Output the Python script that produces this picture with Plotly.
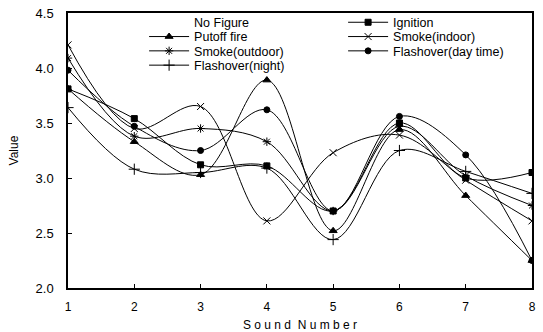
import plotly.graph_objects as go

sound_numbers = [1, 2, 3, 4, 5, 6, 7, 8]
x_tick_labels = ["1", "2", "3", "4", "5", "6", "7", "8"]

ignition = [3.81, 3.54, 3.12, 3.11, 2.70, 3.50, 3.00, 3.05]
putoff_fire = [3.81, 3.33, 3.03, 3.89, 2.52, 3.44, 2.84, 2.25]
smoke_indoor = [4.21, 3.45, 3.65, 2.61, 3.23, 3.39, 2.98, 2.61]
smoke_outdoor = [4.09, 3.38, 3.45, 3.33, 2.70, 3.47, 3.02, 2.75]
flashover_day = [3.98, 3.47, 3.25, 3.62, 2.70, 3.56, 3.21, 2.25]
flashover_night = [3.64, 3.08, 3.05, 3.09, 2.44, 3.25, 3.06, 2.86]

FONT = "Liberation Sans, Arial, sans-serif"
fig = go.Figure()

def add(name, y, symbol, size, legend):
    fig.add_trace(go.Scatter(
        x=sound_numbers, y=y, name=name, mode="lines+markers",
        line=dict(color="black", width=1, shape="spline", smoothing=1.0),
        marker=dict(symbol=symbol, size=size, color="black",
                    line=dict(color="black", width=1)),
        legend=legend,
    ))

# legend rows (two entries per row)
fig.add_trace(go.Scatter(x=[None], y=[None], name="No Figure", mode="lines",
                         line=dict(color="rgba(0,0,0,0)", width=0), legend="legend"))
add("Ignition", ignition, "square", 6, "legend")
add("Putoff fire", putoff_fire, "triangle-up", 7, "legend2")
add("Smoke(indoor)", smoke_indoor, "x-thin-open", 7, "legend2")
add("Smoke(outdoor)", smoke_outdoor, "asterisk-open", 7, "legend3")
add("Flashover(day time)", flashover_day, "circle", 6, "legend3")
add("Flashover(night)", flashover_night, "cross-thin-open", 8, "legend4")

def leg(y):
    return dict(font=dict(family=FONT, size=12.5, color="black"),
                bgcolor="rgba(0,0,0,0)", borderwidth=0,
                orientation="h", xanchor="left", yanchor="middle",
                x=0.164, y=y, itemwidth=40,
                entrywidth=144, entrywidthmode="pixels")

fig.update_layout(
    width=543, height=332,
    margin=dict(l=68, r=11, t=13, b=44, autoexpand=False),
    paper_bgcolor="white", plot_bgcolor="white",
    font=dict(family=FONT, size=12, color="black"),
    showlegend=True,
    legend=leg(0.965),
    legend2=leg(0.913),
    legend3=leg(0.861),
    legend4=leg(0.809),
    xaxis=dict(
        range=[1, 8], tickvals=sound_numbers, ticktext=x_tick_labels,
        showgrid=False, zeroline=False, showline=True, linecolor="black",
        linewidth=1.5, mirror=True, ticks="inside", ticklen=4,
        tickcolor="black", ticklabelstandoff=7, automargin=False,
        title=dict(text="S o u n d  N u m b e r", standoff=9,
                   font=dict(family=FONT, size=12)),
        tickfont=dict(family=FONT, size=12),
    ),
    yaxis=dict(
        range=[2, 4.5], dtick=0.5, tickformat=".1f",
        showgrid=False, zeroline=False, showline=True, linecolor="black",
        linewidth=1.5, mirror=True, ticks="inside", ticklen=4,
        tickcolor="black", ticklabelstandoff=10, automargin=False,
        title=dict(text="Value", standoff=14, font=dict(family=FONT, size=12)),
        tickfont=dict(family=FONT, size=13),
    ),
)

fig.write_html("out.html",
               config={"displayModeBar": False},
               post_script="document.body.style.margin='0';document.body.style.padding='0';")
